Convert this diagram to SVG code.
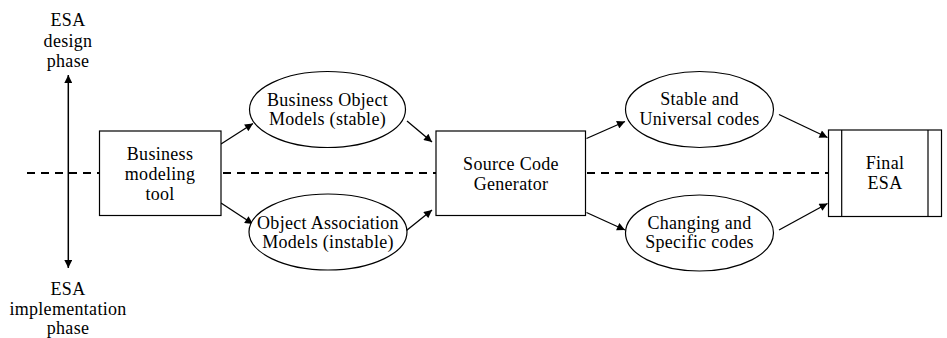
<svg xmlns="http://www.w3.org/2000/svg" width="947" height="338" viewBox="0 0 947 338">
<style>
text{font-family:"Liberation Serif","Times New Roman",serif;font-size:18px;letter-spacing:0.3px;fill:#000;text-anchor:middle}
.n{fill:#fff;stroke:#000;stroke-width:1.2}
.c{stroke:#000;stroke-width:1.3;fill:none;marker-end:url(#ah)}
.d{stroke:#000;stroke-width:2;stroke-dasharray:8,6;fill:none}
</style>
<defs>
<marker id="ah" viewBox="0 0 10 10" refX="10" refY="5" markerWidth="9" markerHeight="8" markerUnits="userSpaceOnUse" orient="auto">
<path d="M0,0 L10,5 L0,10 z" fill="#000"/>
</marker>
<marker id="ahs" viewBox="0 0 10 10" refX="10" refY="5" markerWidth="9" markerHeight="8" markerUnits="userSpaceOnUse" orient="auto-start-reverse">
<path d="M0,0 L10,5 L0,10 z" fill="#000"/>
</marker>
</defs>
<g id="background-lines">
<line class="d" x1="27" y1="173" x2="828" y2="173"/>
<line x1="68.3" y1="75" x2="68.3" y2="268" stroke="#000" stroke-width="1.5" marker-start="url(#ahs)" marker-end="url(#ahs)"/>
</g>
<g id="phase-labels">
<text x="68" y="26">ESA</text>
<text x="68" y="46.5">design</text>
<text x="68" y="67">phase</text>
<text x="68" y="295">ESA</text>
<text x="68" y="314.5">implementation</text>
<text x="68" y="334">phase</text>
</g>
<g id="connectors">
<line class="c" x1="221" y1="144" x2="253" y2="123.5"/>
<line class="c" x1="221" y1="203" x2="253" y2="224"/>
<line class="c" x1="407" y1="121" x2="432" y2="142"/>
<line class="c" x1="406.5" y1="230.5" x2="432" y2="210"/>
<line class="c" x1="586.5" y1="138.5" x2="625" y2="121.5"/>
<line class="c" x1="586.5" y1="212.5" x2="625" y2="230"/>
<line class="c" x1="779" y1="114.5" x2="827.5" y2="137.5"/>
<line class="c" x1="779" y1="230" x2="827.5" y2="203.5"/>
</g>
<g id="business-modeling-tool">
<rect class="n" x="99.5" y="131" width="121.5" height="84.5"/>
<text x="160" y="160">Business</text>
<text x="160" y="180">modeling</text>
<text x="160" y="199.5">tool</text>
</g>
<g id="business-object-models">
<ellipse class="n" cx="327.5" cy="109.5" rx="78" ry="38"/>
<text x="327.5" y="105.5">Business Object</text>
<text x="327.5" y="125">Models (stable)</text>
</g>
<g id="object-association-models">
<ellipse class="n" cx="328" cy="232" rx="79" ry="38"/>
<text x="328" y="229">Object Association</text>
<text x="328" y="248">Models (instable)</text>
</g>
<g id="source-code-generator">
<rect class="n" x="436" y="131" width="149.5" height="84.5"/>
<text x="511" y="169.5">Source Code</text>
<text x="511" y="189.5">Generator</text>
</g>
<g id="stable-universal-codes">
<ellipse class="n" cx="699.5" cy="109.5" rx="74" ry="38"/>
<text x="699.5" y="105">Stable and</text>
<text x="699.5" y="125">Universal codes</text>
</g>
<g id="changing-specific-codes">
<ellipse class="n" cx="699.5" cy="233" rx="74" ry="38"/>
<text x="699.5" y="228.5">Changing and</text>
<text x="699.5" y="248">Specific codes</text>
</g>
<g id="final-esa">
<rect class="n" x="828.5" y="130" width="113" height="86.5"/>
<line x1="841.7" y1="130" x2="841.7" y2="216.5" stroke="#000" stroke-width="1.2"/>
<line x1="928" y1="130" x2="928" y2="216.5" stroke="#000" stroke-width="1.2"/>
<text x="885" y="169">Final</text>
<text x="885" y="189">ESA</text>
</g>
</svg>
